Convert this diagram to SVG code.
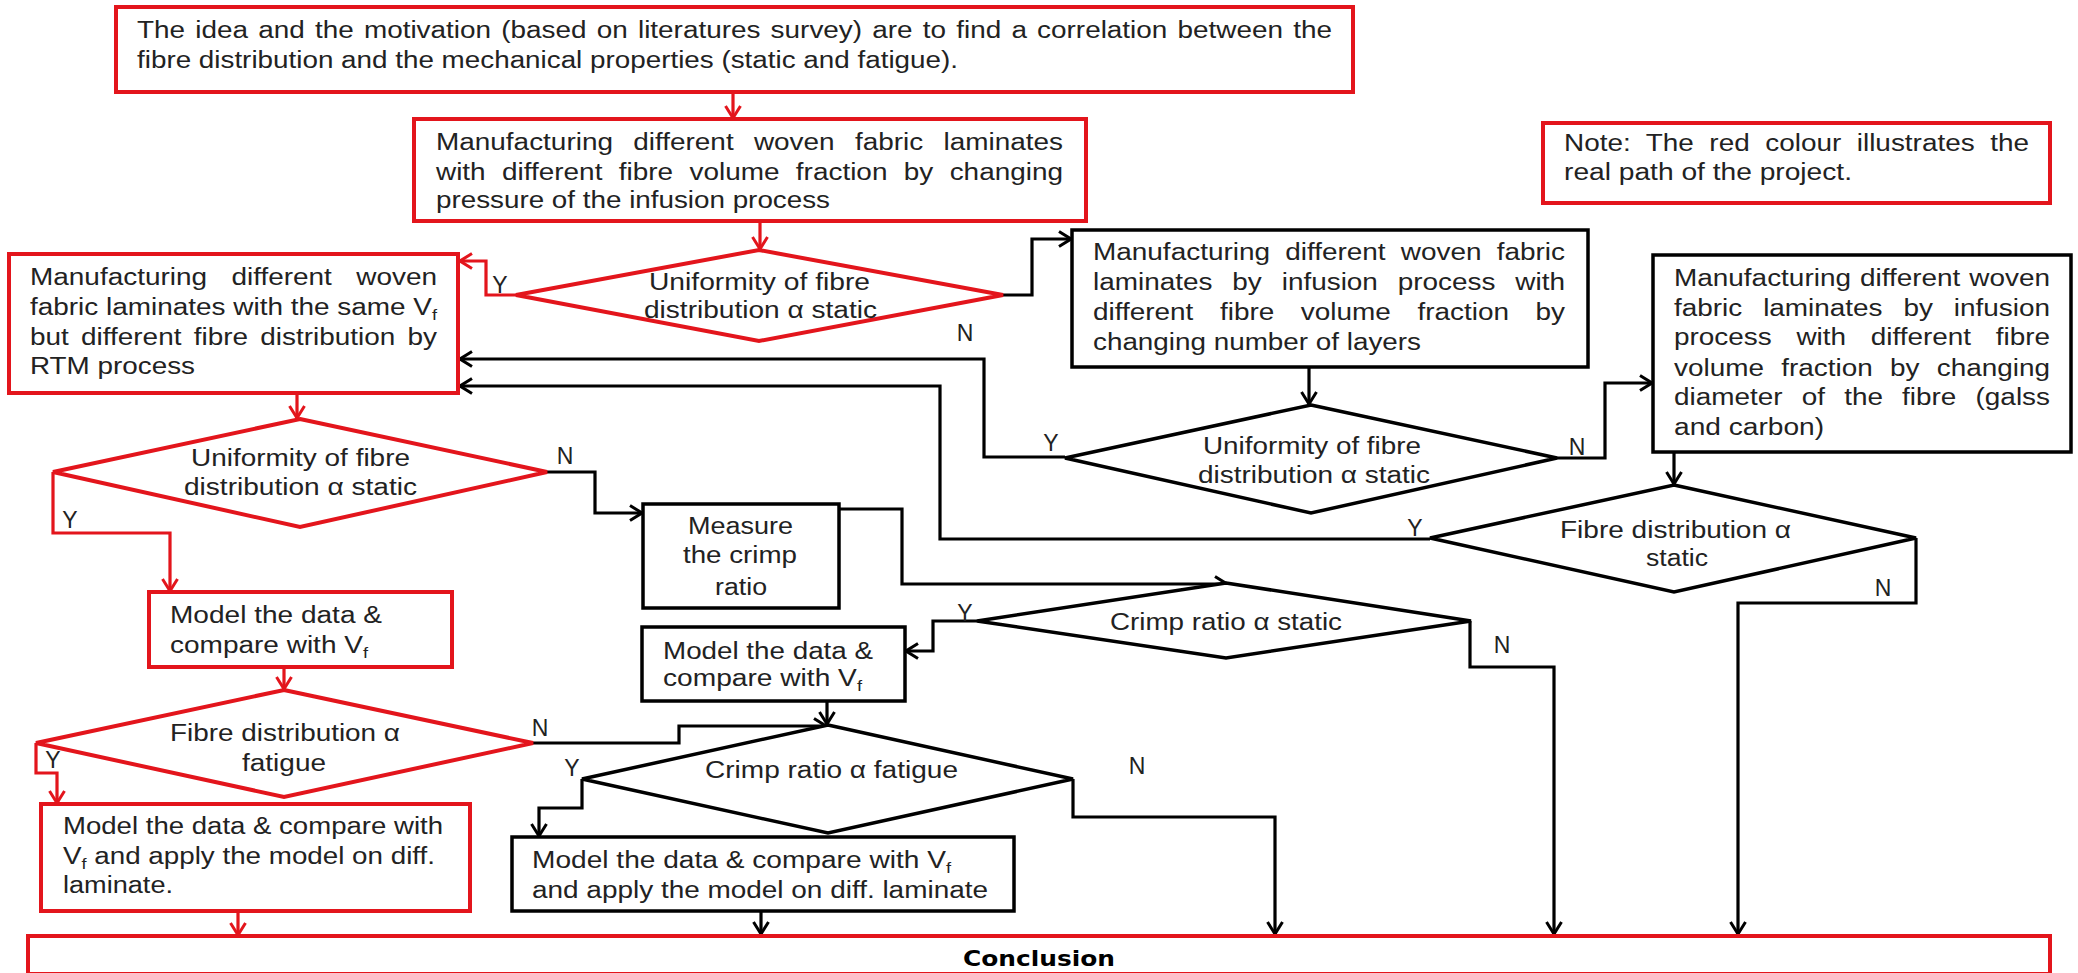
<svg xmlns="http://www.w3.org/2000/svg" width="2078" height="973" viewBox="0 0 2078 973">
<style>
.bg{fill:#fff}
.rbox{fill:#fff;stroke:#e3151c;stroke-width:4}
.kbox{fill:#fff;stroke:#000;stroke-width:3.5}
.t{font-family:"Liberation Sans",Arial,sans-serif;font-size:23px;fill:#222}
.lab{font-family:"Liberation Sans",Arial,sans-serif;font-size:23px;fill:#222;text-anchor:middle}
.bold{font-family:"DejaVu Sans",Verdana,sans-serif;font-size:22px;font-weight:bold;fill:#000}
.rc{fill:none;stroke:#e3151c;stroke-width:3.2;marker-end:url(#ar)}
.kc{fill:none;stroke:#000;stroke-width:3.2;marker-end:url(#ak)}
</style>
<defs>
<marker id="ar" viewBox="0 0 14 18" refX="13" refY="9" markerWidth="14" markerHeight="18" markerUnits="userSpaceOnUse" orient="auto">
<path d="M1,1.5 L13,9 L1,16.5" fill="none" stroke="#e3151c" stroke-width="3"/>
</marker>
<marker id="ak" viewBox="0 0 14 18" refX="13" refY="9" markerWidth="14" markerHeight="18" markerUnits="userSpaceOnUse" orient="auto">
<path d="M1,1.5 L13,9 L1,16.5" fill="none" stroke="#000" stroke-width="3"/>
</marker>
</defs>
<rect class="bg" x="0" y="0" width="2078" height="973"/>

<g id="connectors">
<path class="rc" d="M733,92 V118"/>
<path class="rc" d="M760,221 V249"/>
<path class="rc" d="M516,295 H486 V261 H460"/>
<path class="rc" d="M297,393 V418"/>
<path class="rc" d="M53,472 V533 H170 V591"/>
<path class="rc" d="M284,667 V689"/>
<path class="rc" d="M36,743 V773 H57 V803"/>
<path class="rc" d="M238,911 V935"/>
<path class="kc" d="M1003,295 H1032 V239 H1071"/>
<path class="kc" d="M1309,367 V404"/>
<path class="kc" d="M1065,457 H984 V359 H460"/>
<path class="kc" d="M1557,458 H1605 V383 H1652"/>
<path class="kc" d="M1674,452 V484"/>
<path class="kc" d="M1430,539 H940 V386 H460"/>
<path class="kc" d="M1916,538 V603 H1738 V934"/>
<path class="kc" d="M547,472 H595 V513 H642"/>
<path class="kc" d="M839,509 H902 V584 H1227"/>
<path class="kc" d="M977,621 H933 V651 H906"/>
<path class="kc" d="M1470,621 V667 H1554 V934"/>
<path class="kc" d="M827,701 V724"/>
<path class="kc" d="M533,743 H679 V726 H826"/>
<path class="kc" d="M582,779 V808 H539 V836"/>
<path class="kc" d="M1073,779 V817 H1275 V934"/>
<path class="kc" d="M761,911 V934"/>
</g>

<g id="n-idea">
<rect class="rbox" x="116" y="7" width="1237" height="85"/>
<text class="t" x="137" y="38" word-spacing="2" textLength="1195" lengthAdjust="spacingAndGlyphs">The idea and the motivation (based on literatures survey) are to find a correlation between the</text>
<text class="t" x="137" y="68" textLength="821" lengthAdjust="spacingAndGlyphs">fibre distribution and the mechanical properties (static and fatigue).</text>
</g>

<g id="n-pressure">
<rect class="rbox" x="414" y="119" width="672" height="102"/>
<text class="t" x="436" y="150" word-spacing="10.3" textLength="627" lengthAdjust="spacingAndGlyphs">Manufacturing different woven fabric laminates</text>
<text class="t" x="436" y="180" word-spacing="7.1" textLength="627" lengthAdjust="spacingAndGlyphs">with different fibre volume fraction by changing</text>
<text class="t" x="436" y="208" textLength="394" lengthAdjust="spacingAndGlyphs">pressure of the infusion process</text>
</g>

<g id="n-note">
<rect class="rbox" x="1543" y="123" width="507" height="80"/>
<text class="t" x="1564" y="151" word-spacing="6.4" textLength="465" lengthAdjust="spacingAndGlyphs">Note: The red colour illustrates the</text>
<text class="t" x="1564" y="180" textLength="288" lengthAdjust="spacingAndGlyphs">real path of the project.</text>
</g>

<g id="d-uniform1">
<polygon class="rbox" points="759,250 1003,295 759,341 516,295"/>
<text class="t" x="649" y="290" textLength="221" lengthAdjust="spacingAndGlyphs">Uniformity of fibre</text>
<text class="t" x="644" y="318" textLength="233" lengthAdjust="spacingAndGlyphs">distribution α static</text>
</g>

<g id="n-rtm">
<rect class="rbox" x="9" y="254" width="449" height="139"/>
<text class="t" x="30" y="285" word-spacing="13.7" textLength="407" lengthAdjust="spacingAndGlyphs">Manufacturing different woven</text>
<text class="t" x="30" y="315" textLength="407" lengthAdjust="spacingAndGlyphs">fabric laminates with the same V<tspan dy="5" font-size="15">f</tspan></text>
<text class="t" x="30" y="345" word-spacing="3.7" textLength="407" lengthAdjust="spacingAndGlyphs">but different fibre distribution by</text>
<text class="t" x="30" y="374" textLength="165" lengthAdjust="spacingAndGlyphs">RTM process</text>
</g>

<g id="d-uniform2">
<polygon class="rbox" points="300,419 547,472 300,527 53,472"/>
<text class="t" x="191" y="466" textLength="219" lengthAdjust="spacingAndGlyphs">Uniformity of fibre</text>
<text class="t" x="184" y="495" textLength="233" lengthAdjust="spacingAndGlyphs">distribution α static</text>
</g>

<g id="n-layers">
<rect class="kbox" x="1072" y="230" width="516" height="137"/>
<text class="t" x="1093" y="260" word-spacing="6.1" textLength="472" lengthAdjust="spacingAndGlyphs">Manufacturing different woven fabric</text>
<text class="t" x="1093" y="290" word-spacing="10" textLength="472" lengthAdjust="spacingAndGlyphs">laminates by infusion process with</text>
<text class="t" x="1093" y="320" word-spacing="15.5" textLength="472" lengthAdjust="spacingAndGlyphs">different fibre volume fraction by</text>
<text class="t" x="1093" y="350" textLength="328" lengthAdjust="spacingAndGlyphs">changing number of layers</text>
</g>

<g id="d-uniform3">
<polygon class="kbox" points="1311,405 1557,458 1311,513 1065,458"/>
<text class="t" x="1203" y="454" textLength="218" lengthAdjust="spacingAndGlyphs">Uniformity of fibre</text>
<text class="t" x="1198" y="483" textLength="232" lengthAdjust="spacingAndGlyphs">distribution α static</text>
</g>

<g id="n-diameter">
<rect class="kbox" x="1653" y="255" width="418" height="197"/>
<text class="t" x="1674" y="286" word-spacing="1" textLength="376" lengthAdjust="spacingAndGlyphs">Manufacturing different woven</text>
<text class="t" x="1674" y="316" word-spacing="10.9" textLength="376" lengthAdjust="spacingAndGlyphs">fabric laminates by infusion</text>
<text class="t" x="1674" y="345" word-spacing="13.9" textLength="376" lengthAdjust="spacingAndGlyphs">process with different fibre</text>
<text class="t" x="1674" y="376" word-spacing="7.9" textLength="376" lengthAdjust="spacingAndGlyphs">volume fraction by changing</text>
<text class="t" x="1674" y="405" word-spacing="9.4" textLength="376" lengthAdjust="spacingAndGlyphs">diameter of the fibre (galss</text>
<text class="t" x="1674" y="435" textLength="150" lengthAdjust="spacingAndGlyphs">and carbon)</text>
</g>

<g id="d-fibre-static">
<polygon class="kbox" points="1674,485 1916,538 1674,592 1430,538"/>
<text class="t" x="1560" y="538" textLength="231" lengthAdjust="spacingAndGlyphs">Fibre distribution α</text>
<text class="t" x="1646" y="566" textLength="62" lengthAdjust="spacingAndGlyphs">static</text>
</g>

<g id="n-measure">
<rect class="kbox" x="643" y="504" width="196" height="104"/>
<text class="t" x="688" y="534" textLength="105" lengthAdjust="spacingAndGlyphs">Measure</text>
<text class="t" x="683" y="563" textLength="114" lengthAdjust="spacingAndGlyphs">the crimp</text>
<text class="t" x="715" y="595" textLength="52" lengthAdjust="spacingAndGlyphs">ratio</text>
</g>

<g id="d-crimp-static">
<polygon class="kbox" points="1226,583 1471,621 1226,658 977,621"/>
<text class="t" x="1110" y="630" textLength="232" lengthAdjust="spacingAndGlyphs">Crimp ratio α static</text>
</g>

<g id="n-model-red">
<rect class="rbox" x="149" y="592" width="303" height="75"/>
<text class="t" x="170" y="623" textLength="212" lengthAdjust="spacingAndGlyphs">Model the data &amp;</text>
<text class="t" x="170" y="653" textLength="198" lengthAdjust="spacingAndGlyphs">compare with V<tspan dy="5" font-size="15">f</tspan></text>
</g>

<g id="n-model-black">
<rect class="kbox" x="642" y="627" width="263" height="74"/>
<text class="t" x="663" y="659" textLength="210" lengthAdjust="spacingAndGlyphs">Model the data &amp;</text>
<text class="t" x="663" y="686" textLength="199" lengthAdjust="spacingAndGlyphs">compare with V<tspan dy="5" font-size="15">f</tspan></text>
</g>

<g id="d-fibre-fatigue">
<polygon class="rbox" points="284,690 533,743 284,797 36,743"/>
<text class="t" x="170" y="741" textLength="230" lengthAdjust="spacingAndGlyphs">Fibre distribution α</text>
<text class="t" x="242" y="771" textLength="84" lengthAdjust="spacingAndGlyphs">fatigue</text>
</g>

<g id="d-crimp-fatigue">
<polygon class="kbox" points="828,725 1073,779 828,833 582,779"/>
<text class="t" x="705" y="778" textLength="253" lengthAdjust="spacingAndGlyphs">Crimp ratio α fatigue</text>
</g>

<g id="n-apply-red">
<rect class="rbox" x="41" y="804" width="429" height="107"/>
<text class="t" x="63" y="834" textLength="380" lengthAdjust="spacingAndGlyphs">Model the data &amp; compare with</text>
<text class="t" x="63" y="864" textLength="372" lengthAdjust="spacingAndGlyphs">V<tspan dy="5" font-size="15">f</tspan><tspan dy="-5"> and apply the model on diff.</tspan></text>
<text class="t" x="63" y="893" textLength="110" lengthAdjust="spacingAndGlyphs">laminate.</text>
</g>

<g id="n-apply-black">
<rect class="kbox" x="512" y="837" width="502" height="74"/>
<text class="t" x="532" y="868" textLength="419" lengthAdjust="spacingAndGlyphs">Model the data &amp; compare with V<tspan dy="5" font-size="15">f</tspan></text>
<text class="t" x="532" y="898" textLength="456" lengthAdjust="spacingAndGlyphs">and apply the model on diff. laminate</text>
</g>

<g id="n-conclusion">
<rect class="rbox" x="28" y="936" width="2022" height="38"/>
<text class="bold" x="963" y="966" textLength="152" lengthAdjust="spacingAndGlyphs">Conclusion</text>
</g>

<g id="labels">
<text class="lab" x="500" y="293">Y</text>
<text class="lab" x="965" y="341">N</text>
<text class="lab" x="565" y="464">N</text>
<text class="lab" x="70" y="528">Y</text>
<text class="lab" x="1051" y="451">Y</text>
<text class="lab" x="1577" y="455">N</text>
<text class="lab" x="1415" y="536">Y</text>
<text class="lab" x="1883" y="596">N</text>
<text class="lab" x="965" y="621">Y</text>
<text class="lab" x="1502" y="653">N</text>
<text class="lab" x="540" y="736">N</text>
<text class="lab" x="53" y="768">Y</text>
<text class="lab" x="572" y="776">Y</text>
<text class="lab" x="1137" y="774">N</text>
</g>
</svg>
